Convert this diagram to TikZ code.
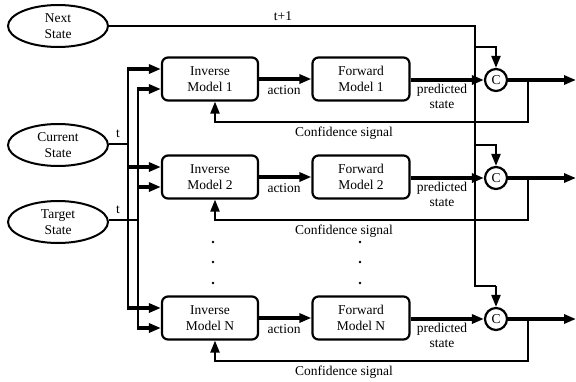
\documentclass[tikz,border=0pt]{standalone}
\usepackage{fontspec}
\setmainfont{Liberation Serif}
\usetikzlibrary{arrows.meta,shapes.geometric,calc}
\begin{document}
\begin{tikzpicture}[x=1pt,y=-1pt,
  font=\rmfamily\fontsize{13.5}{15.5}\selectfont,
  statenode/.style={ellipse,draw,line width=2pt,minimum width=100pt,minimum height=42pt,inner sep=0pt,align=center},
  modelbox/.style={rectangle,draw,line width=2.2pt,rounded corners=6pt,minimum width=96pt,minimum height=43pt,inner sep=0pt,align=center},
  combiner/.style={circle,draw,line width=2.2pt,minimum size=22pt,inner sep=0pt},
  wire/.style={line width=2.2pt},
  thickwire/.style={line width=3.4pt},
  tip/.style={-{Triangle[length=12pt,width=9pt]}},
  lbl/.style={inner sep=0pt,align=center},
  dotmark/.style={fill=black,draw=none}
]
\useasboundingbox (0,0) rectangle (576,381);

% input states
\node[statenode] (ns) at (58,26) {Next\\State};
\node[statenode] (cs) at (58,145) {Current\\State};
\node[statenode] (ts) at (58,222) {Target\\State};

% model rows
\foreach \i/\y/\lab in {1/79/1,2/177/2,3/318/N}{
  \node[modelbox] (inv\i) at (210,\y) {Inverse\\Model \lab};
  \node[modelbox,minimum width=97pt] (fwd\i) at (361,\y) {Forward\\Model \lab};
  \node[combiner] (c\i) at (496,\y+1) {C};
  \coordinate (out\i) at (576,\y+1);
}

% buses from current and target state
\coordinate (busA) at (128,144);
\coordinate (busB) at (138,220);
\draw[wire] (cs.east |- busA) -- (busA);
\draw[wire] (ts.east |- busB) -- (busB);
\draw[wire] (128,69) -- (128,308);
\draw[wire] (138,89) -- (138,328);
\foreach \i in {1,2,3}{
  \draw[thickwire,tip] ($(inv\i.west)+(-34,-10)$) -- ($(inv\i.west)+(0,-10)$);
  \draw[thickwire,tip] ($(inv\i.west)+(-24,10)$) -- ($(inv\i.west)+(0,10)$);
}
\node[lbl] at (118,134) {t};
\node[lbl] at (118,210) {t};

% next state distribution
\coordinate (nsCorner) at (475,26);
\draw[wire] (ns.east) -- (nsCorner) -- (475,{318+1-33}) -- (c3.north |- 0,{318+1-33}) coordinate (nsEnd);
\draw[wire,tip] (nsEnd) -- (c3.north);
\foreach \i in {1,2}{
  \draw[wire,tip] (475,0 |- c\i.north) ++(0,-21) -| (c\i.north);
}
\node[lbl] at (283,16) {t+1};

% action, prediction, output, and feedback
\foreach \i/\y in {1/79,2/177,3/318}{
  \draw[thickwire,tip] (inv\i.east) -- (fwd\i.west |- inv\i.east);
  \node[lbl] at (284,\y+11) {action};
  \draw[thickwire,tip] (fwd\i.east |- c\i.west) -- (c\i.west);
  \node[lbl] at (442,\y+11) {predicted};
  \node[lbl] at (442,\y+26) {state};
  \draw[thickwire,tip] (c\i.east) -- (out\i);
  \draw[wire,tip] (528,\y+1) -- (528,\y+43) -- (215,\y+43) -- (215,0 |- inv\i.south);
  \node[lbl] at (344,\y+54) {Confidence signal};
}

% ellipsis dots between rows
\foreach \x in {213,360}{
  \foreach \yy in {242,262,283}{
    \fill[dotmark] (\x,\yy) circle (1.3);
  }
}
\end{tikzpicture}
\end{document}
